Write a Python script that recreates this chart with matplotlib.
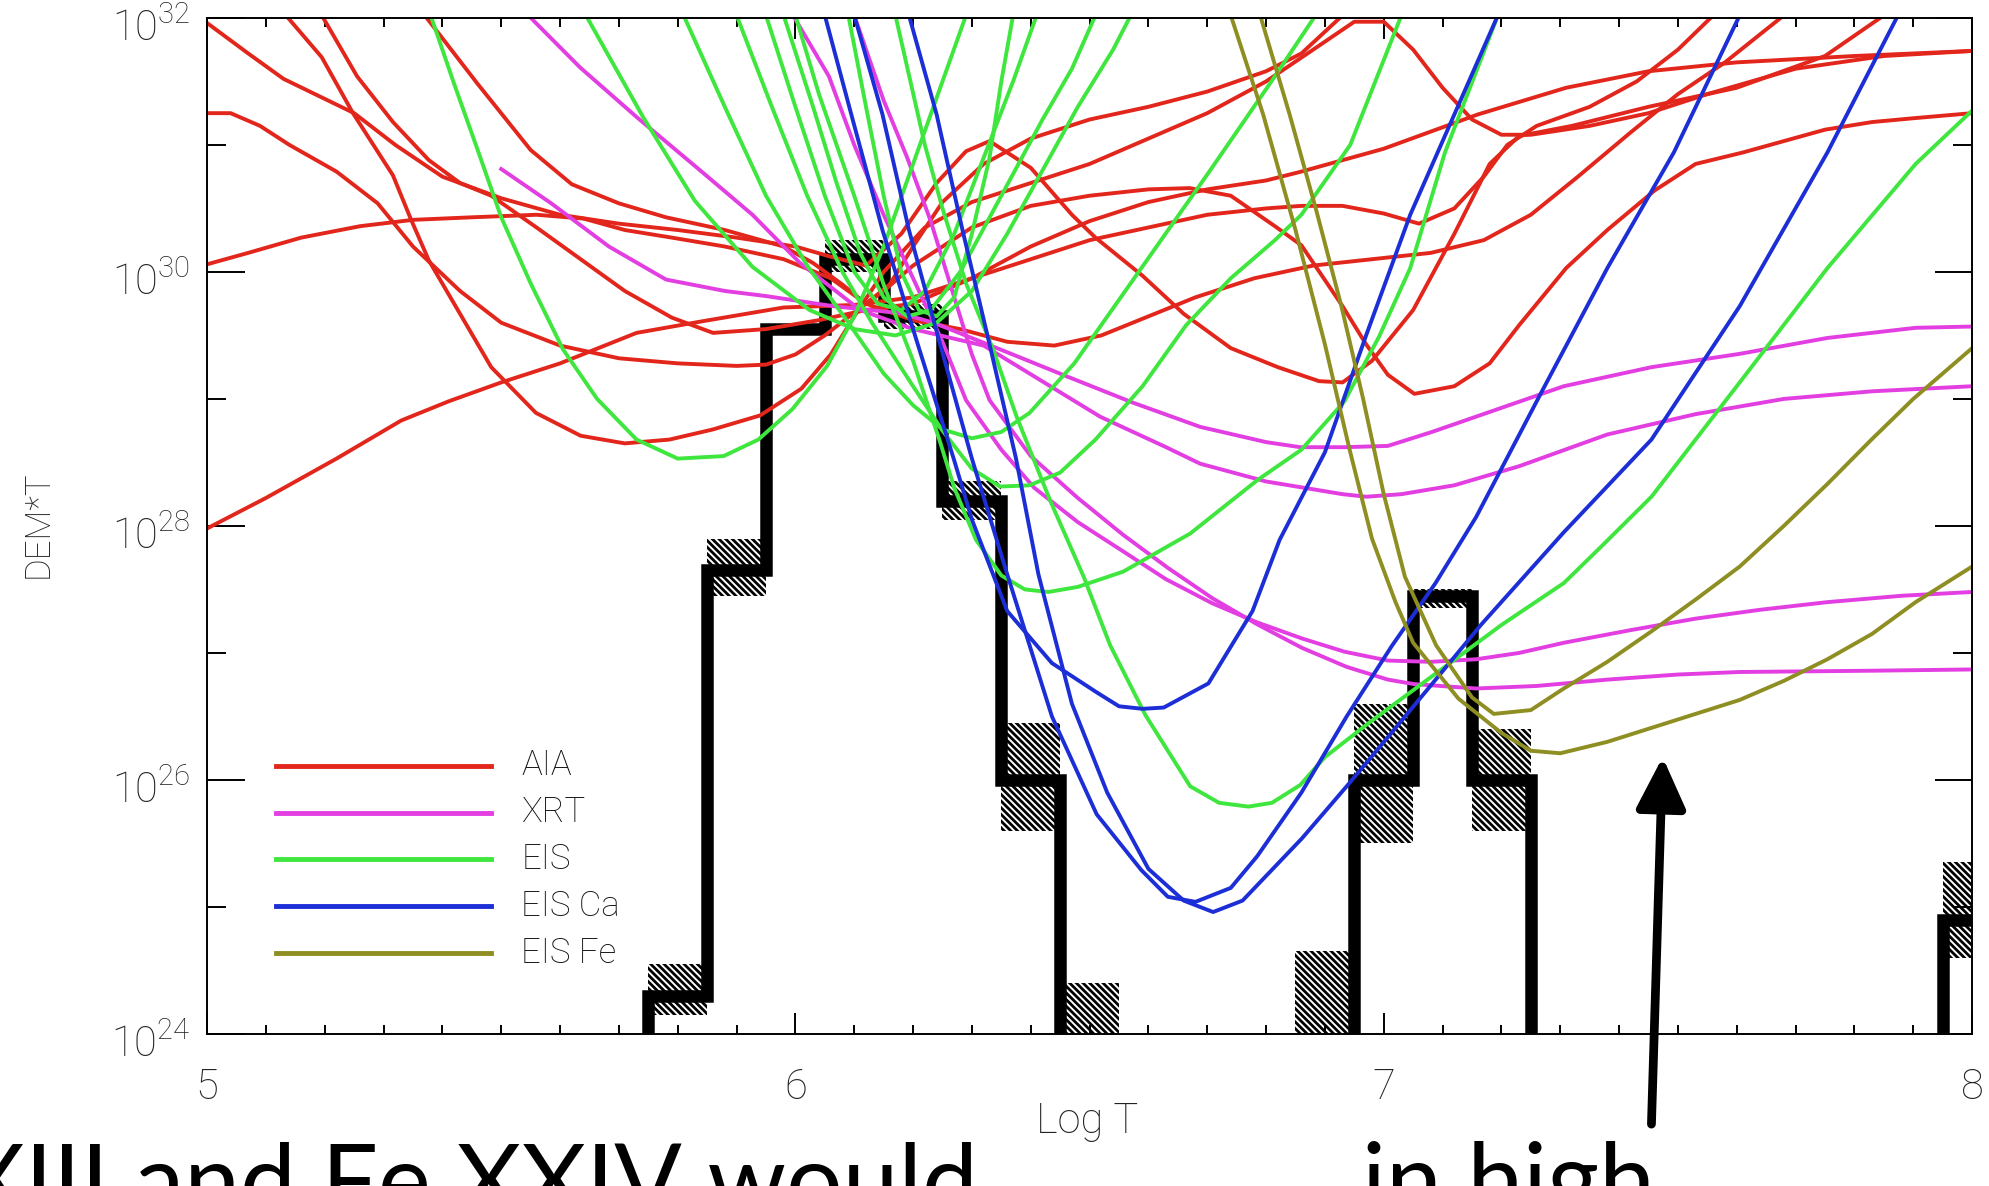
import numpy as np
import matplotlib
matplotlib.use("Agg")
import matplotlib.pyplot as plt
import matplotlib.transforms as mtransforms
from matplotlib.ticker import FixedLocator, MultipleLocator, FuncFormatter, NullFormatter

plt.rcParams['hatch.linewidth'] = 2.0
plt.rcParams['font.family'] = ['Roboto', 'DejaVu Sans']
plt.rcParams['font.weight'] = 'light'
plt.rcParams['mathtext.fontset'] = 'custom'
plt.rcParams['mathtext.rm'] = 'Roboto:light'

# DEM loci curves, (log T, log10 DEM*T)
aia_1 = [(5.0, 31.96), (5.07, 31.72), (5.13, 31.52), (5.25, 31.25), (5.32, 31.0), (5.40, 30.75),
         (5.5, 30.58), (5.6, 30.45), (5.7, 30.38), (5.8, 30.33), (5.9, 30.27), (6.0, 30.2),
         (6.06, 30.12), (6.12, 30.05), (6.18, 30.3), (6.24, 30.7), (6.29, 30.95), (6.33, 31.03),
         (6.40, 30.82), (6.47, 30.45), (6.51, 30.27), (6.59, 29.97), (6.66, 29.67), (6.74, 29.40),
         (6.82, 29.25), (6.89, 29.14), (6.93, 29.13), (6.98, 29.3), (7.05, 29.7), (7.12, 30.3),
         (7.18, 30.85), (7.23, 31.07), (7.32, 31.15), (7.45, 31.3), (7.6, 31.45), (7.75, 31.7),
         (7.85, 32.02)]
aia_2 = [(5.134, 32.02), (5.195, 31.69), (5.248, 31.25), (5.316, 30.76), (5.346, 30.42),
         (5.377, 30.09), (5.43, 29.67), (5.483, 29.25), (5.559, 28.89), (5.635, 28.71),
         (5.71, 28.65), (5.786, 28.68), (5.86, 28.76), (5.94, 28.87), (6.01, 29.08), (6.06, 29.35),
         (6.10, 29.65), (6.15, 30.0), (6.22, 30.35), (6.3, 30.55), (6.4, 30.7), (6.5, 30.85),
         (6.6, 31.05), (6.7, 31.25), (6.8, 31.5), (6.88, 31.75), (6.95, 31.97), (7.0, 31.97),
         (7.05, 31.75), (7.1, 31.45), (7.15, 31.2), (7.2, 31.08), (7.25, 31.08), (7.35, 31.15),
         (7.45, 31.25), (7.55, 31.4), (7.7, 31.6), (7.85, 31.7), (8.0, 31.74)]
aia_3 = [(5.195, 32.02), (5.255, 31.54), (5.316, 31.18), (5.377, 30.88), (5.43, 30.70),
         (5.483, 30.6), (5.56, 30.35), (5.635, 30.1), (5.71, 29.85), (5.79, 29.64), (5.86, 29.52),
         (5.95, 29.55), (6.04, 29.62), (6.12, 29.7), (6.2, 29.75), (6.3, 29.95), (6.4, 30.2),
         (6.5, 30.4), (6.6, 30.55), (6.7, 30.65), (6.8, 30.72), (6.86, 30.79), (7.0, 30.97),
         (7.16, 31.24), (7.31, 31.45), (7.45, 31.58), (7.6, 31.65), (7.8, 31.7), (8.0, 31.74)]
aia_4 = [(5.0, 31.25), (5.04, 31.25), (5.09, 31.15), (5.14, 31.0), (5.22, 30.79), (5.29, 30.54),
         (5.35, 30.2), (5.43, 29.85), (5.5, 29.6), (5.6, 29.42), (5.7, 29.32), (5.8, 29.28),
         (5.9, 29.26), (5.95, 29.27), (6.0, 29.35), (6.05, 29.5), (6.1, 29.68), (6.15, 29.85),
         (6.2, 30.05), (6.3, 30.35), (6.4, 30.52), (6.5, 30.6), (6.6, 30.65), (6.67, 30.66),
         (6.74, 30.6), (6.815, 30.36), (6.86, 30.21), (6.93, 29.73), (6.97, 29.43), (7.007, 29.19),
         (7.052, 29.04), (7.12, 29.10), (7.18, 29.28), (7.23, 29.58), (7.31, 30.03), (7.38, 30.33),
         (7.46, 30.64), (7.53, 30.85), (7.61, 30.94), (7.68, 31.03), (7.75, 31.12), (7.83, 31.18),
         (7.9, 31.21), (8.0, 31.25)]
aia_5 = [(5.0, 30.06), (5.07, 30.15), (5.16, 30.27), (5.26, 30.36), (5.35, 30.41), (5.45, 30.43),
         (5.56, 30.45), (5.64, 30.42), (5.71, 30.33), (5.79, 30.27), (5.88, 30.2), (5.98, 30.1),
         (6.06, 29.95), (6.12, 29.75), (6.2, 29.62), (6.28, 29.55), (6.36, 29.45), (6.44, 29.42),
         (6.52, 29.5), (6.6, 29.65), (6.68, 29.8), (6.78, 29.95), (6.88, 30.05), (6.98, 30.1),
         (7.08, 30.15), (7.17, 30.25), (7.25, 30.45), (7.33, 30.75), (7.42, 31.1), (7.5, 31.4),
         (7.58, 31.65), (7.68, 32.02)]
aia_6 = [(5.0, 27.98), (5.1, 28.22), (5.22, 28.53), (5.33, 28.83), (5.41, 28.98), (5.5, 29.13),
         (5.6, 29.28), (5.73, 29.52), (5.84, 29.61), (5.98, 29.72), (6.1, 29.74), (6.2, 29.8),
         (6.3, 29.95), (6.4, 30.1), (6.5, 30.25), (6.6, 30.35), (6.7, 30.45), (6.8, 30.5),
         (6.86, 30.52), (6.93, 30.52), (7.0, 30.46), (7.06, 30.38), (7.12, 30.5), (7.17, 30.75),
         (7.21, 31.0), (7.26, 31.15), (7.35, 31.3), (7.43, 31.5), (7.5, 31.75), (7.56, 32.02)]
aia_7 = [(5.37, 32.02), (5.46, 31.48), (5.55, 30.96), (5.62, 30.69), (5.70, 30.54), (5.78, 30.43),
         (5.88, 30.33), (5.98, 30.2), (6.03, 30.07), (6.08, 29.9), (6.12, 29.75), (6.16, 29.9),
         (6.2, 30.2), (6.25, 30.55), (6.32, 30.85), (6.4, 31.05), (6.5, 31.2), (6.6, 31.3),
         (6.7, 31.42), (6.8, 31.58), (6.86, 31.72), (6.93, 32.02)]

xrt_1 = [(5.50, 30.81), (5.585, 30.54), (5.683, 30.20), (5.78, 29.94), (5.88, 29.85), (5.95, 29.81),
         (6.065, 29.73), (6.178, 29.675), (6.235, 29.60), (6.348, 29.39), (6.46, 29.18),
         (6.574, 28.97), (6.688, 28.78), (6.80, 28.66), (6.858, 28.62), (6.933, 28.62),
         (7.007, 28.63), (7.082, 28.74), (7.194, 28.92), (7.306, 29.10), (7.455, 29.25),
         (7.605, 29.355), (7.754, 29.48), (7.904, 29.56), (8.0, 29.57)]
xrt_2 = [(5.546, 32.02), (5.634, 31.61), (5.73, 31.22), (5.838, 30.80), (5.927, 30.45),
         (6.008, 30.07), (6.11, 29.70), (6.2, 29.55), (6.32, 29.42), (6.405, 29.18), (6.518, 28.86),
         (6.63, 28.62), (6.688, 28.49), (6.80, 28.35), (6.93, 28.25), (6.97, 28.23), (7.03, 28.25),
         (7.12, 28.32), (7.23, 28.47), (7.38, 28.72), (7.53, 28.88), (7.68, 29.0), (7.83, 29.06),
         (8.0, 29.10)]
xrt_3 = [(5.996, 32.02), (6.057, 31.54), (6.10, 31.0), (6.15, 30.45), (6.2, 29.95), (6.25, 29.45),
         (6.29, 28.99), (6.35, 28.6), (6.406, 28.30), (6.48, 28.03), (6.557, 27.80), (6.63, 27.58),
         (6.709, 27.39), (6.785, 27.24), (6.861, 27.114), (6.933, 27.01), (7.007, 26.94),
         (7.08, 26.93), (7.157, 26.95), (7.23, 27.0), (7.306, 27.08), (7.42, 27.18), (7.53, 27.27),
         (7.64, 27.34), (7.754, 27.40), (7.88, 27.45), (8.0, 27.48)]
xrt_4 = [(6.10, 32.02), (6.15, 31.35), (6.19, 30.9), (6.23, 30.4), (6.27, 29.8), (6.30, 29.35),
         (6.33, 28.99), (6.40, 28.55), (6.48, 28.22), (6.557, 27.93), (6.633, 27.67), (6.709, 27.43),
         (6.785, 27.225), (6.861, 27.04), (6.937, 26.89), (7.007, 26.79), (7.051, 26.755),
         (7.157, 26.72), (7.26, 26.74), (7.38, 26.79), (7.5, 26.83), (7.605, 26.85), (7.829, 26.86),
         (8.0, 26.87)]

eis_1 = [(5.38, 32.02), (5.42, 31.48), (5.46, 30.96), (5.50, 30.43), (5.55, 29.91), (5.605, 29.39),
         (5.663, 29.0), (5.73, 28.68), (5.80, 28.53), (5.878, 28.55), (5.937, 28.68), (5.995, 28.92),
         (6.054, 29.26), (6.10, 29.65), (6.15, 30.2), (6.20, 30.85), (6.25, 31.5), (6.29, 32.02)]
eis_2 = [(5.81, 32.02), (5.88, 31.3), (5.95, 30.6), (6.02, 30.05), (6.09, 29.6), (6.15, 29.2),
         (6.2, 28.95), (6.25, 28.76), (6.30, 28.69), (6.35, 28.74), (6.398, 28.89), (6.474, 29.28),
         (6.588, 30.03), (6.702, 30.78), (6.815, 31.54), (6.884, 32.02)]
eis_3 = [(5.90, 32.02), (5.96, 31.3), (6.02, 30.6), (6.08, 30.0), (6.13, 29.6), (6.2, 29.1),
         (6.25, 28.75), (6.30, 28.45), (6.348, 28.31), (6.398, 28.32), (6.45, 28.42), (6.51, 28.68),
         (6.59, 29.1), (6.664, 29.58), (6.74, 29.95), (6.815, 30.25), (6.86, 30.45), (6.943, 31.0),
         (7.03, 32.02)]
eis_4 = [(6.0, 32.02), (6.04, 31.4), (6.1, 30.6), (6.15, 29.9), (6.2, 29.3), (6.246, 28.66),
         (6.27, 28.30), (6.307, 27.89), (6.35, 27.61), (6.39, 27.50), (6.43, 27.48), (6.48, 27.52),
         (6.557, 27.64), (6.671, 27.94), (6.785, 28.36), (6.86, 28.6), (6.933, 28.98), (6.992, 29.49),
         (7.045, 30.03), (7.104, 30.94), (7.194, 32.02)]
eis_5 = [(6.17, 32.02), (6.22, 31.0), (6.25, 30.5), (6.29, 29.91), (6.336, 29.39), (6.376, 28.86),
         (6.433, 28.2), (6.49, 27.6), (6.535, 27.06), (6.595, 26.51), (6.671, 25.95), (6.72, 25.82),
         (6.77, 25.79), (6.81, 25.82), (6.858, 25.96), (6.90, 26.18), (6.975, 26.45), (7.089, 26.84),
         (7.2, 27.22), (7.306, 27.55), (7.368, 27.83), (7.455, 28.23), (7.605, 29.13),
         (7.754, 30.03), (7.904, 30.85), (8.0, 31.27)]
eis_6 = [(5.644, 32.02), (5.741, 31.22), (5.829, 30.56), (5.927, 30.04), (6.024, 29.70),
         (6.10, 29.55), (6.17, 29.5), (6.24, 29.6), (6.3, 29.85), (6.36, 30.3), (6.42, 30.8),
         (6.48, 31.3), (6.54, 31.75), (6.57, 32.02)]
eis_7 = [(5.95, 32.02), (6.0, 31.3), (6.05, 30.6), (6.10, 30.0), (6.14, 29.75), (6.18, 29.7),
         (6.22, 29.85), (6.27, 30.3), (6.32, 30.9), (6.37, 31.5), (6.41, 32.02)]
eis_8 = [(5.98, 32.02), (6.03, 31.3), (6.07, 30.7), (6.11, 30.15), (6.15, 29.8), (6.19, 29.65),
         (6.23, 29.7), (6.28, 30.0), (6.35, 30.6), (6.42, 31.2), (6.47, 31.6), (6.51, 32.02)]
eis_9 = [(6.09, 32.02), (6.12, 31.3), (6.15, 30.6), (6.18, 30.0), (6.21, 29.7), (6.24, 29.65),
         (6.27, 29.8), (6.3, 30.3), (6.33, 30.9), (6.35, 31.5), (6.37, 32.02)]

ca_1 = [(6.05, 32.02), (6.095, 31.24), (6.148, 30.33), (6.208, 29.43), (6.269, 28.53), (6.30, 28.05),
        (6.36, 27.33), (6.436, 26.92), (6.512, 26.69), (6.55, 26.58), (6.59, 26.56), (6.626, 26.57),
        (6.702, 26.76), (6.777, 27.33), (6.823, 27.89), (6.9, 28.58), (6.97, 29.5), (7.045, 30.45),
        (7.12, 31.24), (7.194, 32.02)]
ca_2 = [(6.10, 32.02), (6.148, 31.24), (6.193, 30.33), (6.246, 29.43), (6.30, 28.53), (6.36, 27.62),
        (6.436, 26.5), (6.512, 25.73), (6.588, 25.29), (6.633, 25.08), (6.68, 25.04), (6.74, 25.15),
        (6.785, 25.4), (6.86, 25.9), (6.937, 26.5), (7.013, 27.05), (7.088, 27.55), (7.157, 28.07),
        (7.27, 29.07), (7.38, 30.03), (7.493, 30.94), (7.605, 32.02)]
ca_3 = [(6.193, 32.02), (6.24, 31.24), (6.284, 30.33), (6.33, 29.43), (6.375, 28.53), (6.413, 27.62),
        (6.47, 26.6), (6.53, 25.9), (6.6, 25.3), (6.66, 25.05), (6.71, 24.96), (6.76, 25.05),
        (6.861, 25.54), (6.937, 25.95), (7.013, 26.37), (7.09, 26.8), (7.165, 27.22), (7.306, 27.95),
        (7.455, 28.68), (7.605, 29.73), (7.754, 30.94), (7.874, 32.02)]

fe_1 = [(6.79, 32.02), (6.84, 31.24), (6.885, 30.49), (6.928, 29.73), (6.965, 29.0), (7.0, 28.25),
        (7.036, 27.6), (7.089, 27.06), (7.15, 26.65), (7.187, 26.52), (7.25, 26.55), (7.306, 26.72),
        (7.38, 26.93), (7.455, 27.17), (7.53, 27.42), (7.605, 27.68), (7.68, 28.0), (7.754, 28.33),
        (7.829, 28.68), (7.9, 29.0), (8.0, 29.40)]
fe_2 = [(6.74, 32.02), (6.795, 31.24), (6.85, 30.33), (6.9, 29.43), (6.942, 28.6), (6.98, 27.9),
        (7.02, 27.4), (7.05, 27.08), (7.127, 26.64), (7.2, 26.37), (7.25, 26.23), (7.3, 26.21),
        (7.38, 26.3), (7.455, 26.41), (7.53, 26.52), (7.605, 26.63), (7.68, 26.78), (7.754, 26.95),
        (7.83, 27.15), (7.904, 27.40), (8.0, 27.68)]

# DEM solution, log10 per 0.1 bin, and its error ranges
dem_edges = [5.65, 5.75, 5.85, 5.95, 6.05, 6.15, 6.25, 6.35, 6.45, 6.55, 6.65, 6.75, 6.85,
             6.95, 7.05, 7.15, 7.25, 7.35, 7.45, 7.55, 7.65, 7.75, 7.85, 7.95, 8.05]
dem_val = [20.0, 24.3, 27.65, 29.55, 30.1, 29.65, 28.2, 26.0, 20.0, 20.0, 20.0, 20.0,
           20.0, 26.0, 27.45, 26.0, 20.0, 20.0, 20.0, 20.0, 20.0, 20.0, 20.0, 24.9]
dem_err = [(5.75, 24.15, 24.55), (5.85, 27.45, 27.9), (6.05, 30.0, 30.25), (6.15, 29.55, 29.75),
           (6.25, 28.05, 28.35), (6.35, 25.6, 26.45), (6.45, 24.0, 24.4), (6.85, 24.0, 24.65),
           (6.95, 25.5, 26.6), (7.05, 27.35, 27.5), (7.15, 25.6, 26.4), (7.95, 24.6, 25.35)]

instruments = ['AIA', 'XRT', 'EIS', 'EIS Ca', 'EIS Fe']
colors = ['#e3261c', '#e23ee2', '#3ee63e', '#1c2ed6', '#8e8e22']
groups = [[aia_1, aia_2, aia_3, aia_4, aia_5, aia_6, aia_7],
          [xrt_1, xrt_2, xrt_3, xrt_4],
          [eis_1, eis_2, eis_3, eis_4, eis_5, eis_6, eis_7, eis_8, eis_9],
          [ca_1, ca_2, ca_3],
          [fe_1, fe_2]]

fig = plt.figure(figsize=(19.89, 11.86), dpi=100)
ax = fig.add_axes([0.1041, 0.1282, 0.8874, 0.8567])

ax.stairs(10.0 ** np.array(dem_val), dem_edges, baseline=None, color='black', lw=9)
for t0, lo, hi in dem_err:
    ax.bar(t0, 10.0 ** hi - 10.0 ** lo, bottom=10.0 ** lo, width=0.1, align='edge',
           fill=False, hatch='\\\\\\\\\\', edgecolor='black', lw=0)

for curves, c in zip(groups, colors):
    for pts in curves:
        t, l = np.array(pts).T
        ax.plot(t, 10.0 ** l, color=c, lw=2.8)

ax.set_yscale('log')
ax.set_xlim(5, 8)
ax.set_ylim(1e24, 1e32)
ax.yaxis.set_major_locator(FixedLocator([1e24, 1e26, 1e28, 1e30, 1e32]))
ax.yaxis.set_minor_locator(FixedLocator([1e25, 1e27, 1e29, 1e31]))
ax.yaxis.set_major_formatter(FuncFormatter(lambda v, p: '$10^{%d}$' % round(np.log10(v))))
ax.yaxis.set_minor_formatter(NullFormatter())
ax.xaxis.set_major_locator(FixedLocator([5, 6, 7, 8]))
ax.xaxis.set_minor_locator(MultipleLocator(0.1))

ax.tick_params(which='both', direction='in', top=True, right=True, width=1.4,
               labelsize=30, labelcolor='#222222')
ax.tick_params(axis='y', which='major', length=27, pad=12)
ax.tick_params(axis='y', which='minor', length=14)
ax.tick_params(axis='x', which='major', length=15, pad=24)
ax.tick_params(axis='x', which='minor', length=6.5)
for s in ax.spines.values():
    s.set_linewidth(1.4)

# drop the power-of-ten labels a little so the mantissa sits on the tick
shift = mtransforms.ScaledTranslation(0, -5 / 72, fig.dpi_scale_trans)
for lab in ax.get_yticklabels():
    lab.set_transform(lab.get_transform() + shift)

# legend drawn as short lines with labels
for i, (name, c) in enumerate(zip(instruments, colors)):
    y = 0.264 - i * 0.0461
    ax.plot([0.039, 0.161], [y, y], transform=ax.transAxes, color=c, lw=3.5)
    ax.text(0.178, y, name, transform=ax.transAxes, va='center', ha='left',
            fontsize=25, color='#111111')

fig.text(38 / 1989, 1 - 524 / 1186, 'DEM*T', rotation=90, ha='center', va='center',
         fontsize=25, color='#222222')
fig.text(1087 / 1989, 1 - 1122 / 1186, 'Log T', ha='center', va='center',
         fontsize=30, color='#222222')

ax.annotate('', xy=(7.474, 10 ** 26.18), xytext=(7.455, 10 ** 23.29),
            arrowprops=dict(arrowstyle='-|>,head_length=0.62,head_width=0.3',
                            mutation_scale=50, lw=6.3, color='black',
                            shrinkA=0, shrinkB=0),
            annotation_clip=False)

fig.text(-40 / 1989, 1 - 1215 / 1186, 'XIII and Fe XXIV would', fontsize=72,
         family='Lato', weight='normal', va='baseline', ha='left', color='black')
fig.text(1362 / 1989, 1 - 1215 / 1186, 'in high', fontsize=72,
         family='Lato', weight='normal', va='baseline', ha='left', color='black')

fig.savefig('out.png', dpi=100)
